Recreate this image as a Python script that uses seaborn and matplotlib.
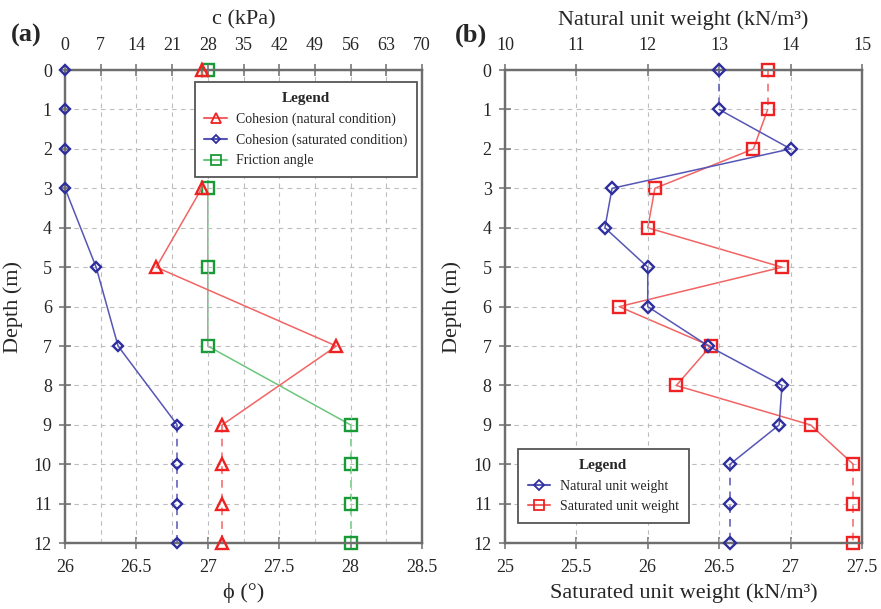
import matplotlib
matplotlib.use('Agg')  # no display
import matplotlib.pyplot as plt
from matplotlib.lines import Line2D
import seaborn as sns

# (a) strength parameters, depths with samples
depth_a = [0, 1, 2, 3, 5, 7, 9, 10, 11, 12]
c_natural = [26.8, 26.8, 26.8, 26.8, 17.9, 53.2, 30.8, 30.8, 30.8, 30.8]
c_saturated = [0, 0, 0, 0, 6.1, 10.4, 22.0, 22.0, 22.0, 22.0]
phi = [27, 27, 27, 27, 27, 27, 28, 28, 28, 28]
c_ticks = [0, 7, 14, 21, 28, 35, 42, 49, 56, 63, 70]
phi_ticks = [26, 26.5, 27, 27.5, 28, 28.5]

# (b) unit weights
depth_b = [0, 1, 2, 3, 4, 5, 6, 7, 8, 9, 10, 11, 12]
gamma_natural = [13.0, 13.0, 14.0, 11.5, 11.4, 12.0, 12.0, 12.85, 13.88, 13.84, 13.15, 13.15, 13.15]
gamma_saturated = [26.84, 26.84, 26.74, 26.05, 26.0, 26.94, 25.8, 26.44, 26.2, 27.14, 27.44, 27.44, 27.44]
nat_ticks = [10, 11, 12, 13, 14, 15]
sat_ticks = [25, 25.5, 26, 26.5, 27, 27.5]
depth_ticks = list(range(13))

sns.set_theme(style='white')
plt.rcParams['font.family'] = ['Liberation Serif', 'DejaVu Serif']

RED, RED_LINE = '#ee2222', '#f26464'
BLUE, BLUE_LINE = '#2e2e9e', '#5656b6'
GREEN, GREEN_LINE = '#189a36', '#6cc67c'
SPINE = '#6e6e6e'
GRID = '#bdbdbd'
DASH = (0, (5, 4))


def draw_profile(ax, x, y, segments, color, line_color, marker, ms):
    # line pieces: dashed where the value is held constant, solid elsewhere
    for i0, i1, ls in segments:
        sns.lineplot(x=x[i0:i1 + 1], y=y[i0:i1 + 1], sort=False, estimator=None,
                     ax=ax, color=line_color, linestyle=ls, linewidth=1.1)
    sns.lineplot(x=x, y=y, sort=False, estimator=None, ax=ax, color=color,
                 linestyle='none', marker=marker, markersize=ms,
                 markerfacecolor='none', markeredgecolor=color,
                 markeredgewidth=1.7, clip_on=False, zorder=5)


def style_axes(ax, tw, xticks, twticks, xlabel, twlabel):
    ax.set_ylim(12, 0)
    ax.set_yticks(depth_ticks)
    ax.set_xlim(xticks[0], xticks[-1])
    ax.set_xticks(xticks)
    ax.set_xticklabels([f'{t:g}' for t in xticks])
    tw.set_xlim(twticks[0], twticks[-1])
    tw.set_xticks(twticks)
    tw.set_xticklabels([f'{t:g}' for t in twticks])
    ax.set_xlabel(xlabel, fontsize=16, labelpad=5)
    tw.set_xlabel(twlabel, fontsize=16, labelpad=9)
    ax.set_ylabel('Depth (m)', fontsize=16, labelpad=8)
    for a in (ax, tw):
        a.tick_params(direction='inout', length=9, width=1.1, color=SPINE,
                      labelsize=13, pad=7)
        for sp in a.spines.values():
            sp.set_color(SPINE)
            sp.set_linewidth(1.6)
    ax.tick_params(axis='y', left=True, pad=5)
    ax.tick_params(axis='x', bottom=True)
    tw.tick_params(axis='x', top=True)
    ax.yaxis.grid(True, linestyle=(0, (4, 4)), color=GRID, linewidth=0.8)
    tw.xaxis.grid(True, linestyle=(0, (4, 4)), color=GRID, linewidth=0.8)
    ax.xaxis.grid(False)


def add_legend(tw, handles, labels, **kw):
    leg = tw.legend(handles, labels, title='Legend',
                    title_fontproperties={'weight': 'bold', 'size': 11},
                    borderaxespad=0, fontsize=10, fancybox=False, framealpha=1,
                    handlelength=1.6, labelspacing=0.55, borderpad=0.7,
                    handletextpad=0.7, **kw)
    leg.get_frame().set_edgecolor('#555555')
    leg.get_frame().set_linewidth(1.3)
    return leg


fig, (axa, axb) = plt.subplots(1, 2, figsize=(8.81, 6.09), dpi=100)
fig.subplots_adjust(left=0.0738, right=0.9784, bottom=0.108, top=0.885, wspace=0.232)

# ---- panel (a)
twa = axa.twiny()
seg_a = [(0, 3, DASH), (3, 6, '-'), (6, 9, DASH)]
draw_profile(axa, phi, depth_a, seg_a, GREEN, GREEN_LINE, 's', 9)
draw_profile(twa, c_natural, depth_a, seg_a, RED, RED_LINE, '^', 8)
draw_profile(twa, c_saturated, depth_a, seg_a, BLUE, BLUE_LINE, 'D', 5.5)
style_axes(axa, twa, phi_ticks, c_ticks, 'ϕ (°)', 'c (kPa)')

handles_a = [
    Line2D([], [], color=RED_LINE, marker='^', mfc='none', mec=RED, ms=6.5, mew=1.3),
    Line2D([], [], color=BLUE_LINE, marker='D', mfc='none', mec=BLUE, ms=4.5, mew=1.3),
    Line2D([], [], color=GREEN_LINE, marker='s', mfc='none', mec=GREEN, ms=6.5, mew=1.3),
]
add_legend(twa, handles_a,
           ['Cohesion (natural condition)', 'Cohesion (saturated condition)', 'Friction angle'],
           loc='upper right', bbox_to_anchor=(0.987, 0.975))

# ---- panel (b)
twb = axb.twiny()
seg_b = [(0, 1, DASH), (1, 10, '-'), (10, 12, DASH)]
draw_profile(axb, gamma_saturated, depth_b, seg_b, RED, RED_LINE, 's', 9)
draw_profile(twb, gamma_natural, depth_b, seg_b, BLUE, BLUE_LINE, 'D', 6)
style_axes(axb, twb, sat_ticks, nat_ticks, 'Saturated unit weight (kN/m³)',
           'Natural unit weight (kN/m³)')

handles_b = [
    Line2D([], [], color=BLUE_LINE, marker='D', mfc='none', mec=BLUE, ms=5, mew=1.3),
    Line2D([], [], color=RED_LINE, marker='s', mfc='none', mec=RED, ms=7.5, mew=1.3),
]
add_legend(twb, handles_b, ['Natural unit weight', 'Saturated unit weight'],
           loc='lower left', bbox_to_anchor=(0.037, 0.043))

fig.text(0.012, 0.932, '(a)', fontsize=19, fontweight='bold')
fig.text(0.516, 0.932, '(b)', fontsize=19, fontweight='bold')

fig.savefig('out.png', dpi=100)
